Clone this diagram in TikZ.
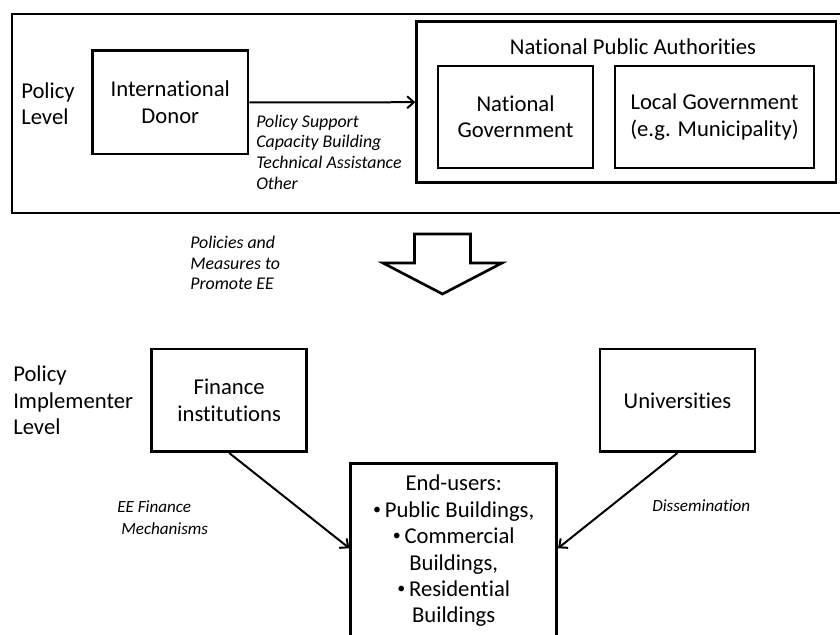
\documentclass[tikz,border=0pt]{standalone}
\usepackage{fontspec}
\setmainfont{Carlito}[Ligatures=NoCommon]
\usepackage{tikz}
\usetikzlibrary{positioning,arrows.meta}
\tikzstyle{box}=[draw, line width=2pt, align=center, inner sep=0pt, font=\fontsize{17}{19.8}\selectfont]
\tikzstyle{level}=[align=left, inner sep=0pt, anchor=west, font=\fontsize{17}{19.8}\selectfont]
\tikzstyle{note}=[align=left, inner sep=0pt, anchor=west, font=\fontsize{13.4}{15.5}\selectfont\itshape]
\tikzstyle{smallnote}=[note, font=\fontsize{12.8}{16.2}\selectfont\itshape]
\newcommand{\bul}{\raisebox{0.25ex}{\fontsize{12}{12}\selectfont•}\,}

\begin{document}
\begin{tikzpicture}[x=0.75pt,y=-0.75pt,on grid,>={Straight Barb[length=5pt,width=9pt]}]
	\clip (0,0) rectangle (840,635);
	% policy level frame
	\draw[line width=2pt] (12,14) rectangle (850,213);
	\node[level] (toplevel) at (21,103.5) {Policy\\Level};
	\node[box, minimum width=116.5pt, minimum height=77.5pt] (donor) at (170.3,102.3) {International\\Donor};
	\node[box, minimum width=314.5pt, minimum height=120.75pt] (authorities) at (626.3,102.2) {};
	\node[inner sep=0pt, font=\fontsize{17}{19.8}\selectfont] (authtitle) at (633,47) {National Public Authorities};
	\node[box, minimum width=116.25pt, minimum height=76.5pt] (natgov) at (515.5,117) {National\\Government};
	\node[box, minimum width=149.25pt, minimum height=76.5pt, right=149.25pt of natgov] (localgov) {Local Government\\(e.g. Municipality)};
	\path[->, line width=1.5pt]
	(donor) edge (authorities);
	\node[note] (support) at (256,152) {Policy Support\\Capacity Building\\Technical Assistance\\Other};
	% hand-over between the two levels
	\node[note] (measures) at (190,263) {Policies and\\Measures to\\Promote EE};
	\draw[line width=2pt, line join=miter] (414.5,234) -- (470.5,234) -- (470.5,263) -- (502,263)
	  -- (442.5,294) -- (383,263) -- (414.5,263) -- cycle;
	% policy implementer level
	\node[level] (lowlevel) at (13,400.5) {Policy\\Implementer\\Level};
	\node[box, minimum width=116.25pt, minimum height=77pt] (finance) at (229.2,400.3) {Finance\\institutions};
	\node[box, minimum width=116.25pt, minimum height=77pt, right=336.2pt of finance] (universities) {Universities};
	\node[box, minimum width=154.5pt, minimum height=131.4pt] (endusers) at (453.7,550.9)
	  {End-users:\\\bul Public Buildings,\\\bul Commercial\\Buildings,\\\bul Residential\\Buildings};
	\path[->, line width=1.5pt]
	(finance.south) edge ([yshift=2pt]endusers.west)
	(universities.south) edge ([yshift=2pt]endusers.east);
	\node[smallnote] (financenote) at (117,517.5) {EE Finance\\\hspace*{3pt}Mechanisms};
	\node[smallnote] (dissnote) at (652,506) {Dissemination};
\end{tikzpicture}
\end{document}
